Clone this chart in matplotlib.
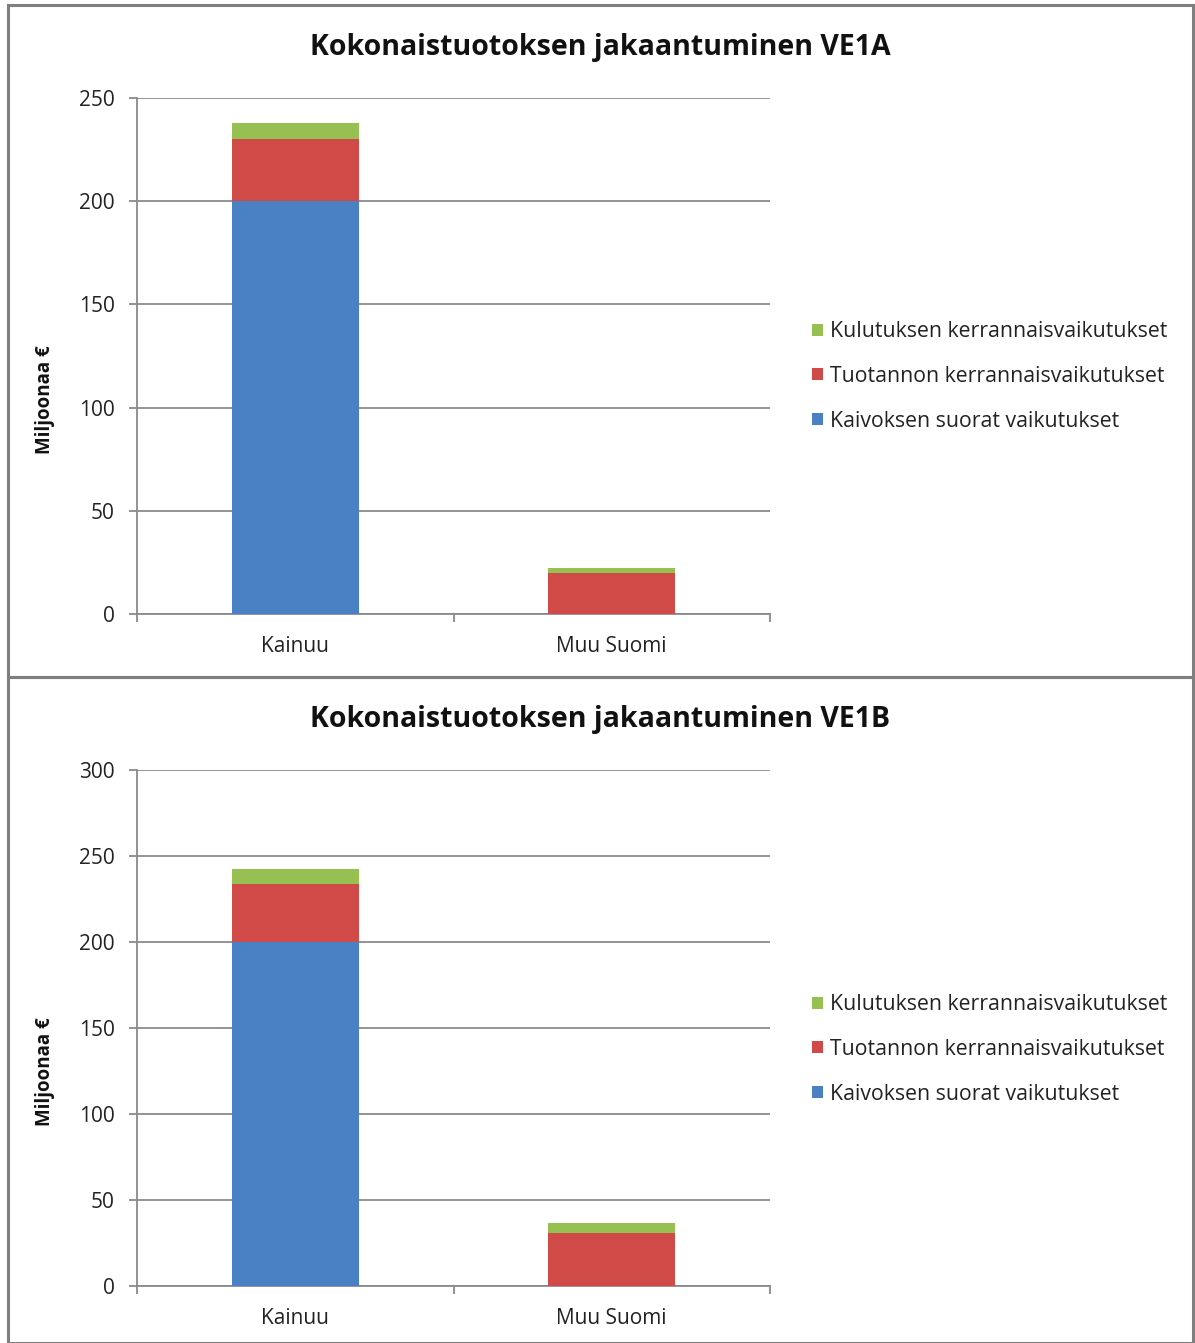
import matplotlib
matplotlib.use("Agg")
import matplotlib.pyplot as plt
from matplotlib.patches import Rectangle, Patch

plt.rcParams['font.family'] = ['Open Sans', 'DejaVu Sans']

# Data (million euros)
categories = ["Kainuu", "Muu Suomi"]
series_names = ["Kaivoksen suorat vaikutukset",
                "Tuotannon kerrannaisvaikutukset",
                "Kulutuksen kerrannaisvaikutukset"]
series_colors = ["#4a80c4", "#d04a48", "#97c053"]

ve1a_suorat = [200, 0]
ve1a_tuotanto = [30, 19.7]
ve1a_kulutus = [8, 2.4]

ve1b_suorat = [200, 0]
ve1b_tuotanto = [34, 30.6]
ve1b_kulutus = [8.2, 6.2]

titles = ["Kokonaistuotoksen jakaantuminen VE1A",
          "Kokonaistuotoksen jakaantuminen VE1B"]
y_maxes = [250, 300]
y_label = "Miljoonaa €"

W, H = 1195, 1343
fig = plt.figure(figsize=(W / 100, H / 100), dpi=100)
fig.patch.set_facecolor("white")


def px_axes(x0, y0, x1, y1):
    return fig.add_axes([x0 / W, 1 - y1 / H, (x1 - x0) / W, (y1 - y0) / H])


# Panel frames
for (top, bot) in [(5, 677), (677, 1343)]:
    fig.patches.append(Rectangle((8 / W, 1 - bot / H), (1193 - 8) / W, (bot - top) / H,
                                 transform=fig.transFigure, fill=False,
                                 edgecolor="#7f7f7f", linewidth=2.2, zorder=0))

panels = [
    (titles[0], y_maxes[0], [ve1a_suorat, ve1a_tuotanto, ve1a_kulutus], 98, 614, 47, 400, 326),
    (titles[1], y_maxes[1], [ve1b_suorat, ve1b_tuotanto, ve1b_kulutus], 770, 1286, 719, 1072, 999),
]

for title, ymax, stacks, ytop, ybot, ytitle, ylab_y, leg_y in panels:
    ax = px_axes(137, ytop, 770, ybot)
    xs = list(range(len(categories)))
    bottoms = [0] * len(categories)
    for vals, color in zip(stacks, series_colors):
        ax.bar(xs, vals, bottom=bottoms, width=0.4, color=color, zorder=3)
        bottoms = [b + v for b, v in zip(bottoms, vals)]
    ax.set_xlim(-0.5, len(categories) - 0.5)
    ax.set_ylim(0, ymax)
    ax.set_yticks(range(0, ymax + 1, 50))
    ax.yaxis.grid(True, color="#8a8a8a", linewidth=1.3, zorder=0)
    ax.set_axisbelow(True)
    for s in ["top", "right"]:
        ax.spines[s].set_visible(False)
    for s in ["left", "bottom"]:
        ax.spines[s].set_color("#8a8a8a")
        ax.spines[s].set_linewidth(1.3)
    ax.tick_params(axis="y", direction="out", length=6, width=1.3, color="#8a8a8a",
                   labelsize=15, labelcolor="#222222", pad=10)
    ax.set_xticks(xs)
    ax.set_xticklabels(categories)
    ax.tick_params(axis="x", length=0, labelsize=15, labelcolor="#222222", pad=16)
    # category separator ticks
    ax.set_xticks([-0.5, 0.5, 1.5], minor=True)
    ax.tick_params(axis="x", which="minor", direction="out", length=6, width=1.3,
                   color="#8a8a8a")
    fig.text(600 / W, 1 - ytitle / H, title, ha="center", va="center",
             fontsize=20.5, fontweight="bold", color="#111111")
    fig.text(45 / W, 1 - ylab_y / H, y_label, rotation=90, ha="center", va="center",
             fontsize=13.5, fontweight="bold", color="#111111")
    handles = [Patch(facecolor=c, label=n) for n, c in zip(series_names, series_colors)]
    handles = handles[::-1]
    fig.legend(handles=handles, loc="upper left",
               bbox_to_anchor=(793 / W, 1 - (leg_y - 24) / H),
               frameon=False, fontsize=15.3, handlelength=0.5, handleheight=0.5,
               handletextpad=0.35, labelspacing=1.12, labelcolor="#222222")

fig.savefig("out.png", dpi=100, facecolor="white")
